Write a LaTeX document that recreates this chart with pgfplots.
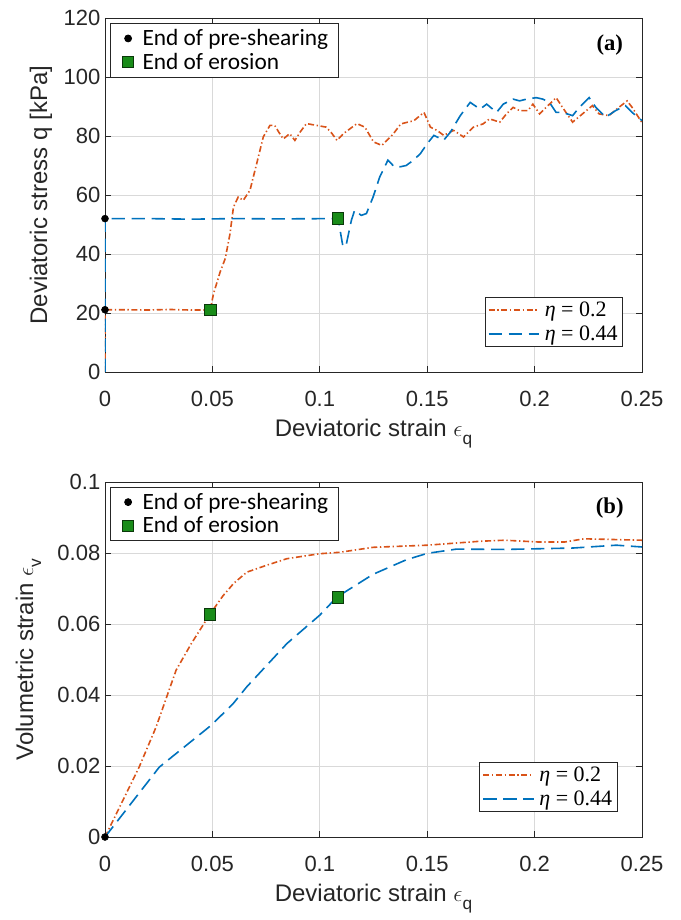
\documentclass[border=0pt]{standalone}
\usepackage{fontspec}
\setmainfont{Liberation Sans}
\newfontfamily\calibri{Carlito}
\newfontfamily\timesf{Liberation Serif}
\usepackage{pgfplots}
\pgfplotsset{compat=1.18}
\definecolor{mOrange}{rgb}{0.85,0.325,0.098}
\definecolor{mBlue}{rgb}{0,0.447,0.741}
\definecolor{mGreen}{rgb}{0.1,0.55,0.1}
\definecolor{frameC}{gray}{0.15}
\newcommand{\subq}[1]{\raisebox{-6pt}{\fontsize{13}{13}\selectfont #1}}

\pgfplotsset{
  base/.style={
    scale only axis, width=402.75pt,
    xmin=0, xmax=0.25,
    xtick={0,0.05,0.1,0.15,0.2,0.25},
    scaled ticks=false,
    tick align=inside, major tick length=4.5pt,
    /pgf/number format/assume math mode=true,
    xticklabel style={/pgf/number format/fixed,/pgf/number format/precision=2, yshift=-11pt},
    yticklabel style={/pgf/number format/fixed,/pgf/number format/precision=2},
    ticklabel style={font=\fontsize{16.5}{18}\selectfont, text=frameC},
    xlabel style={at={(rel axis cs:0.5,0)}, anchor=base, yshift=-48.5pt,
      font=\fontsize{18}{20}\selectfont, text=frameC},
    ylabel style={font=\fontsize{18}{20}\selectfont, text=frameC, anchor=base},
    axis line style={frameC, line width=0.6pt},
    every tick/.style={frameC, line width=0.6pt},
    grid=major, major grid style={gray!30, line width=0.6pt},
  },
  linelegend/.style={
    legend style={font=\timesf\fontsize{16.5}{19}\selectfont, draw=frameC, line width=0.6pt,
      inner xsep=2pt, inner ysep=1.6pt, nodes={inner sep=1.5pt}, column sep=2pt, row sep=2.5pt,
      legend cell align=left},
    legend image code/.code={\draw[##1] (0pt,0pt) -- (38pt,0pt);},
  },
  marklegend/.style={
    legend style={font=\calibri\fontsize{17.5}{20}\selectfont, draw=frameC, line width=0.6pt,
      inner xsep=6pt, inner ysep=3pt, nodes={inner sep=1.5pt}, column sep=2pt, row sep=1pt,
      legend cell align=left},
    legend image code/.code={\path (0pt,0pt) (14pt,0pt);
      \draw[mark repeat=2,mark phase=2,##1] plot coordinates {(0pt,0pt) (7pt,0pt) (14pt,0pt)};},
  },
  oline/.style={mOrange, line width=1.2pt, dash pattern=on 4.5pt off 2pt on 1pt off 2pt},
  bline/.style={mBlue, line width=1.2pt, dash pattern=on 10pt off 5pt},
  blackdot/.style={only marks, mark=*, mark size=2.6pt, mark options={fill=black, draw=black}},
  greensq/.style={only marks, mark=square*, mark size=4.3pt, mark options={fill=mGreen, draw=black!60!mGreen, line width=0.6pt}},
}

\begin{document}
\begin{tikzpicture}
% ---------------- (a) ----------------
\begin{axis}[base, height=265.5pt, at={(0,0)},
  ymin=0, ymax=120, ytick={0,20,...,120},
  xlabel={Deviatoric strain $\epsilon$\subq{q}},
  ylabel={Deviatoric stress q [kPa]},
  ylabel style={at={(rel axis cs:-0.108,0.5)}},
  linelegend,
  legend style={at={(0.964,0.0706)}, anchor=south east},
]
\addplot[oline] coordinates {
(0,0) (0,21.1) (0.01,21.1) (0.02,21.0) (0.03,21.2) (0.04,21.0) (0.049,21.0)
(0.0505,26.5) (0.0536,33.9) (0.0560,38.5) (0.0582,46.9) (0.0598,55.9) (0.062,59.3) (0.0644,58.2)
(0.0675,61.6) (0.0706,70.6) (0.0737,79.7) (0.0768,83.6) (0.079,83.6) (0.081,81.2) (0.083,79)
(0.086,80.8) (0.0884,78.5) (0.091,81.5) (0.0938,84.2) (0.0985,83.6) (0.103,83) (0.1055,81) (0.108,78.5)
(0.111,80.8) (0.1173,84.2) (0.121,83) (0.125,78) (0.1289,76.8) (0.1343,80.8) (0.1377,84.1)
(0.1438,85.2) (0.1485,88) (0.1515,83) (0.1546,81.9) (0.1577,80.2) (0.1623,81.9) (0.1669,79.7)
(0.1715,83) (0.176,84.1) (0.179,85.8) (0.1838,84.7) (0.1869,87.5) (0.19,89.7) (0.193,88.6)
(0.1969,88.6) (0.1992,90.8) (0.2023,87.5) (0.2054,89.7) (0.21,93) (0.213,89.7) (0.2177,84.7)
(0.2223,87.5) (0.2269,90.3) (0.23,87.5) (0.2346,86.9) (0.2392,89.7) (0.2431,91.9) (0.2454,89.7) (0.25,84.5)
};
\addlegendentry{\textit{η} = 0.2}
\addplot[bline] coordinates {
(0,0) (0,52) (0.02,52) (0.04,51.8) (0.06,52) (0.08,51.9) (0.1085,52) (0.1108,42.4) (0.1124,43.5)
(0.1147,51.4) (0.1162,54.8) (0.1193,53.1) (0.1217,53.7) (0.1248,59.3) (0.1279,66.1) (0.1317,71.8)
(0.1348,69.5) (0.1377,69.6) (0.1402,70) (0.1438,71.9) (0.1469,74.1) (0.15,77.4) (0.1531,80.2)
(0.1577,78.6) (0.1608,81.3) (0.1631,84.1) (0.1654,86.9) (0.17,91.4) (0.1746,89.1) (0.1777,90.8)
(0.1823,88) (0.1854,90.8) (0.19,92.5) (0.193,91.9) (0.1962,92.5) (0.2008,93) (0.2038,92.5)
(0.2069,91.4) (0.21,88) (0.213,88) (0.2177,86.9) (0.2208,89.7) (0.2254,93) (0.2285,89.7)
(0.2331,86.4) (0.2377,88.6) (0.2423,90.3) (0.2454,88) (0.25,85.2)
};
\addlegendentry{\textit{η} = 0.44}
\node[font=\timesf\bfseries\fontsize{17}{19}\selectfont] at (rel axis cs:0.94,0.924) {(a)};
\end{axis}
\begin{axis}[base, height=265.5pt, at={(0,0)}, hide axis, clip=false,
  ymin=0, ymax=120, marklegend,
  legend style={at={(0.0093,0.986)}, anchor=north west},
]
\addplot[blackdot] coordinates {(0,21.1) (0,52)};
\addlegendentry{End of pre-shearing}
\addplot[greensq] coordinates {(0.049,21.0) (0.1085,52)};
\addlegendentry{End of erosion}
\end{axis}

% ---------------- (b) ----------------
\begin{axis}[base, height=266.25pt, at={(0,-348.75pt)},
  ymin=0, ymax=0.1, ytick={0,0.02,...,0.1},
  xlabel={Deviatoric strain $\epsilon$\subq{q}},
  ylabel={Volumetric strain $\epsilon$\subq{v}},
  ylabel style={at={(rel axis cs:-0.134,0.5)}},
  linelegend,
  legend style={at={(0.954,0.0713)}, anchor=south east},
]
\addplot[oline] coordinates {
(0,0) (0.0159,0.0197) (0.0238,0.031) (0.0331,0.047) (0.0402,0.0545) (0.0488,0.0627) (0.055,0.068)
(0.06,0.0715) (0.066,0.0746) (0.075,0.0765) (0.0847,0.0784) (0.1,0.0798) (0.1093,0.0802)
(0.1248,0.0816) (0.15,0.0822) (0.1744,0.0833) (0.186,0.0836) (0.2017,0.0831) (0.214,0.0831)
(0.223,0.084) (0.25,0.0836)
};
\addlegendentry{\textit{η} = 0.2}
\addplot[bline] coordinates {
(0,0) (0.0253,0.0197) (0.0495,0.0315) (0.0597,0.0376) (0.066,0.0423) (0.0847,0.0545) (0.1,0.0625)
(0.108,0.0676) (0.1248,0.074) (0.1403,0.0781) (0.15,0.0799) (0.1636,0.0811) (0.186,0.081)
(0.2178,0.0814) (0.238,0.0822) (0.25,0.0817)
};
\addlegendentry{\textit{η} = 0.44}
\node[font=\timesf\bfseries\fontsize{17}{19}\selectfont] at (rel axis cs:0.94,0.927) {(b)};
\end{axis}
\begin{axis}[base, height=266.25pt, at={(0,-348.75pt)}, hide axis, clip=false,
  ymin=0, ymax=0.1, marklegend,
  legend style={at={(0.0093,0.987)}, anchor=north west},
]
\addplot[blackdot] coordinates {(0,0)};
\addlegendentry{End of pre-shearing}
\addplot[greensq] coordinates {(0.0488,0.0627) (0.1085,0.0675)};
\addlegendentry{End of erosion}
\end{axis}

\pgfresetboundingbox
\useasboundingbox (-78.75pt,-411pt) rectangle (432pt,279pt);
\end{tikzpicture}
\end{document}
